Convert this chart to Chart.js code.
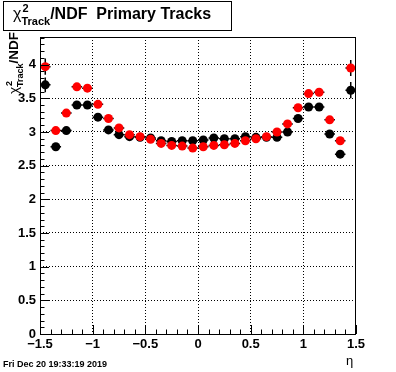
<!DOCTYPE html>
<html>
<head>
<meta charset="utf-8">
<script src="https://cdn.jsdelivr.net/npm/chart.js@4.4.1/dist/chart.umd.min.js"></script>
<style>
    html, body { margin: 0; padding: 0; background: #fff; }
    #wrap { width: 396px; height: 372px; }
</style>
</head>
<body>
<div id="wrap"><canvas id="chi2Chart" width="396" height="372"></canvas></div>
<script>
const etaBins = [-1.45, -1.35, -1.25, -1.15, -1.05, -0.95, -0.85, -0.75, -0.65, -0.55,
                 -0.45, -0.35, -0.25, -0.15, -0.05, 0.05, 0.15, 0.25, 0.35, 0.45,
                 0.55, 0.65, 0.75, 0.85, 0.95, 1.05, 1.15, 1.25, 1.35, 1.45];
const binHalfWidth = 0.05;

const chi2Black = [3.70, 2.78, 3.02, 3.40, 3.40, 3.22, 3.03, 2.96, 2.93, 2.92,
                   2.91, 2.87, 2.86, 2.87, 2.87, 2.88, 2.91, 2.90, 2.90, 2.93,
                   2.92, 2.92, 2.92, 3.00, 3.20, 3.37, 3.37, 2.97, 2.67, 3.62];
const chi2Red = [3.97, 3.02, 3.28, 3.67, 3.65, 3.41, 3.20, 3.06, 2.96, 2.93,
                 2.89, 2.83, 2.80, 2.79, 2.76, 2.78, 2.80, 2.81, 2.83, 2.87,
                 2.90, 2.93, 3.00, 3.12, 3.36, 3.57, 3.59, 3.18, 2.87, 3.95];
const errBlack = [0.11, 0.04, 0.03, 0.03, 0.03, 0.03, 0.03, 0.03, 0.03, 0.03,
                  0.03, 0.03, 0.03, 0.03, 0.03, 0.03, 0.03, 0.03, 0.03, 0.03,
                  0.03, 0.03, 0.03, 0.03, 0.03, 0.03, 0.03, 0.03, 0.04, 0.12];
const errRed = [0.12, 0.04, 0.03, 0.03, 0.03, 0.03, 0.03, 0.03, 0.03, 0.03,
                0.03, 0.03, 0.03, 0.03, 0.03, 0.03, 0.03, 0.03, 0.03, 0.03,
                0.03, 0.03, 0.03, 0.03, 0.03, 0.03, 0.03, 0.03, 0.04, 0.12];

const titleRest = '/NDF  Primary Tracks';
const yTitleRest = '/NDF';
const xTitle = '\u03b7';
const dateStamp = 'Fri Dec 20 19:33:19 2019';

const FONT = '"Liberation Sans", Arial, sans-serif';

function toPoints(ys) {
    return etaBins.map((x, i) => ({ x: x, y: ys[i] }));
}

// chi^2 with "Track" subscript followed by the rest of the label
function drawChiLabel(ctx, x, y, size, rest) {
    const small = Math.round(size * 0.7);
    ctx.font = size + 'px ' + FONT;
    const wChi = ctx.measureText('\u03c7').width;
    ctx.fillText('\u03c7', x, y);
    ctx.font = 'bold ' + small + 'px ' + FONT;
    const wSub = ctx.measureText('Track').width;
    ctx.fillText('2', x + wChi + 1, y - size * 0.42);
    ctx.fillText('Track', x + wChi, y + size * 0.38);
    ctx.font = 'bold ' + size + 'px ' + FONT;
    ctx.fillText(rest, x + wChi + wSub, y);
}

function chiLabelWidth(ctx, size, rest) {
    const small = Math.round(size * 0.7);
    ctx.font = size + 'px ' + FONT;
    let w = ctx.measureText('\u03c7').width;
    ctx.font = 'bold ' + small + 'px ' + FONT;
    w += ctx.measureText('Track').width;
    ctx.font = 'bold ' + size + 'px ' + FONT;
    return w + ctx.measureText(rest).width;
}

const rootStyle = {
    id: 'rootStyle',
    beforeDatasetsDraw(chart) {
        const { ctx, chartArea: a, scales: { x, y } } = chart;
        ctx.save();
        ctx.beginPath();
        ctx.rect(a.left, a.top, a.right - a.left, a.bottom - a.top);
        ctx.clip();
        ctx.strokeStyle = '#000';
        ctx.lineWidth = 1.5;
        [[chi2Black, errBlack], [chi2Red, errRed]].forEach(([vals, errs]) => {
            etaBins.forEach((eta, i) => {
                const px = x.getPixelForValue(eta);
                const py = y.getPixelForValue(vals[i]);
                ctx.beginPath();
                ctx.moveTo(x.getPixelForValue(eta - binHalfWidth), py);
                ctx.lineTo(x.getPixelForValue(eta + binHalfWidth), py);
                ctx.moveTo(px, y.getPixelForValue(vals[i] - errs[i]));
                ctx.lineTo(px, y.getPixelForValue(vals[i] + errs[i]));
                ctx.stroke();
            });
        });
        ctx.restore();
    },
    afterDraw(chart) {
        const { ctx, chartArea: a, scales: { x, y } } = chart;
        ctx.save();
        ctx.strokeStyle = '#000';
        ctx.lineWidth = 1;

        // frame
        ctx.strokeRect(a.left + 0.5, a.top + 0.5, a.right - a.left - 1, a.bottom - a.top);

        // inward ticks, majors every 0.5, minors every 0.1
        ctx.beginPath();
        for (let k = 0; k <= 44; k++) {
            const py = Math.round(y.getPixelForValue(k / 10)) + 0.5;
            const len = k % 5 === 0 ? 9 : 4.5;
            ctx.moveTo(a.left, py);
            ctx.lineTo(a.left + len, py);
        }
        for (let k = -15; k <= 15; k++) {
            const px = Math.round(x.getPixelForValue(k / 10)) + 0.5;
            const len = k % 5 === 0 ? 9 : 4.5;
            ctx.moveTo(px, a.bottom);
            ctx.lineTo(px, a.bottom - len);
        }
        ctx.stroke();

        ctx.textBaseline = 'alphabetic';
        ctx.textAlign = 'left';

        // title box
        ctx.fillStyle = '#fff';
        ctx.fillRect(3.5, 1.5, 228, 29);
        ctx.strokeRect(3.5, 1.5, 228, 29);
        ctx.fillStyle = '#000';
        drawChiLabel(ctx, 13, 18.5, 16, titleRest);

        // y axis title, ends a little above the top of the frame
        const ySize = 13.5;
        const w = chiLabelWidth(ctx, ySize, yTitleRest);
        ctx.save();
        ctx.translate(18, a.top - 5 + w);
        ctx.rotate(-Math.PI / 2);
        drawChiLabel(ctx, 0, 0, ySize, yTitleRest);
        ctx.restore();

        // x axis title
        ctx.font = '13px ' + FONT;
        ctx.fillText(xTitle, 346, 365);

        // date stamp
        ctx.font = 'bold 9px ' + FONT;
        ctx.fillText(dateStamp, 3, 367);
        ctx.restore();
    }
};

new Chart(document.getElementById('chi2Chart'), {
    type: 'scatter',
    data: {
        datasets: [
            {
                label: 'red',
                data: toPoints(chi2Red),
                backgroundColor: '#ff0000',
                borderWidth: 0,
                pointRadius: 4.5,
                order: 0
            },
            {
                label: 'black',
                data: toPoints(chi2Black),
                backgroundColor: '#000000',
                borderWidth: 0,
                pointRadius: 4.5,
                order: 1
            }
        ]
    },
    options: {
        responsive: false,
        animation: false,
        events: [],
        layout: { padding: { top: 37, right: 40, left: 0, bottom: 0 } },
        plugins: {
            legend: { display: false },
            tooltip: { enabled: false },
            title: { display: false }
        },
        scales: {
            x: {
                type: 'linear',
                min: -1.5,
                max: 1.5,
                afterFit: scale => { scale.height = 38; },
                border: { display: false, dash: [1, 2] },
                grid: {
                    drawTicks: false,
                    color: c => (Math.abs(c.tick.value) > 1.4 ? 'rgba(0,0,0,0)' : '#000'),
                    lineWidth: 1
                },
                ticks: {
                    stepSize: 0.5,
                    padding: 3,
                    maxRotation: 0,
                    autoSkip: false,
                    color: '#000',
                    font: { family: FONT, size: 13, weight: 'bold' },
                    callback: v => String(Math.round(v * 10) / 10).replace('-', '\u2212')
                }
            },
            y: {
                type: 'linear',
                min: 0,
                max: 4.41,
                afterFit: scale => { scale.width = 40; },
                border: { display: false, dash: [1, 2] },
                grid: {
                    drawTicks: false,
                    color: c => (c.tick.value === 0 ? 'rgba(0,0,0,0)' : '#000'),
                    lineWidth: 1
                },
                ticks: {
                    stepSize: 0.5,
                    includeBounds: false,
                    padding: 4,
                    color: '#000',
                    font: { family: FONT, size: 13, weight: 'bold' },
                    callback: v => String(Math.round(v * 10) / 10)
                }
            }
        }
    },
    plugins: [rootStyle]
});
</script>
</body>
</html>
